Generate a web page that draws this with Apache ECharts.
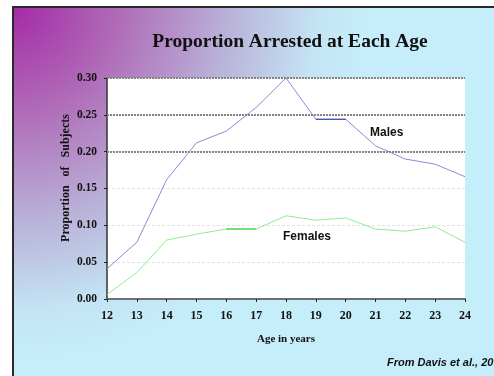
<!DOCTYPE html>
<html>
<head>
<meta charset="utf-8">
<script src="https://cdn.jsdelivr.net/npm/echarts@6/dist/echarts.min.js"></script>
<style>
  html, body { margin: 0; padding: 0; background: #fff; overflow: hidden; }
  #chart { width: 494px; height: 376px; }
</style>
</head>
<body>
<div id="chart"></div>
<script>
  // ages on the x axis
  var ages = ['12', '13', '14', '15', '16', '17', '18', '19', '20', '21', '22', '23', '24'];
  // proportion arrested
  var males = [0.041, 0.077, 0.162, 0.212, 0.228, 0.260, 0.300, 0.244, 0.244, 0.208, 0.190, 0.183, 0.166];
  var females = [0.006, 0.036, 0.080, 0.088, 0.095, 0.095, 0.113, 0.107, 0.110, 0.095, 0.092, 0.098, 0.077];
  // y ticks
  var yMin = 0, yMax = 0.30, yStep = 0.05;
  // heavier dotted grid lines
  var darkGridLevels = [0.20, 0.25, 0.30];
  // segments drawn in a stronger colour (first and last age of each)
  var maleHighlight = ['19', '20'];
  var femaleHighlight = ['16', '17'];

  var serif = '"Liberation Serif", "Times New Roman", serif';
  var sans = '"Liberation Sans", Arial, sans-serif';

  // keep only the values inside [from, to], null elsewhere
  function segment(values, range) {
    var a = ages.indexOf(range[0]), b = ages.indexOf(range[1]);
    return values.map(function (v, i) { return i >= a && i <= b ? v : null; });
  }

  var myChart = echarts.init(document.getElementById('chart'));

  myChart.setOption({
    animation: false,
    title: {
      text: 'Proportion Arrested at Each Age',
      left: 285,
      top: 27,
      textAlign: 'center',
      textStyle: { fontFamily: serif, fontWeight: 'bold', fontSize: 19.5, color: '#111' }
    },
    graphic: [
      {
        // slide background
        type: 'rect',
        z: -100,
        shape: { x: 12, y: 6, width: 482, height: 370 },
        style: {
          fill: new echarts.graphic.RadialGradient(12, 6, 360, [
            { offset: 0, color: '#a42aa6' },
            { offset: 0.3, color: '#b06cb8' },
            { offset: 0.6, color: '#b9b2d8' },
            { offset: 0.85, color: '#c4e4f4' },
            { offset: 1, color: '#c6eefa' }
          ], true)
        }
      },
      {
        // slide edge, left and top only
        type: 'polyline',
        z: -99,
        shape: { points: [[13, 376], [13, 7], [494, 7]] },
        style: { stroke: '#2a2a2a', lineWidth: 2, fill: null }
      },
      {
        type: 'text',
        x: 66, y: 178,
        rotation: Math.PI / 2,
        style: {
          text: 'Proportion   of   Subjects',
          fontFamily: serif, fontWeight: 'bold', fontSize: 12,
          fill: '#111', align: 'center', verticalAlign: 'middle'
        }
      },
      {
        type: 'text',
        x: 370, y: 133,
        style: {
          text: 'Males', fontFamily: sans, fontWeight: 'bold', fontSize: 12,
          fill: '#111', align: 'left', verticalAlign: 'middle'
        }
      },
      {
        type: 'text',
        x: 283, y: 237,
        style: {
          text: 'Females', fontFamily: sans, fontWeight: 'bold', fontSize: 12,
          fill: '#111', align: 'left', verticalAlign: 'middle'
        }
      },
      {
        type: 'text',
        x: 387, y: 363,
        style: {
          text: 'From Davis et al., 20', fontFamily: sans, fontWeight: 'bold',
          fontStyle: 'italic', fontSize: 11,
          fill: '#111', align: 'left', verticalAlign: 'middle'
        }
      }
    ],
    grid: {
      left: 107, right: 29, top: 78, bottom: 77,
      show: true,
      backgroundColor: '#fff',
      borderWidth: 0
    },
    xAxis: {
      type: 'category',
      boundaryGap: false,
      data: ages,
      name: 'Age in years',
      nameLocation: 'middle',
      nameGap: 35,
      nameTextStyle: { fontFamily: serif, fontWeight: 'bold', fontSize: 11, color: '#111' },
      axisLine: { lineStyle: { color: '#707070', width: 2 } },
      axisTick: { show: true, inside: false, length: 3, alignWithLabel: true, lineStyle: { color: '#222' } },
      axisLabel: { fontFamily: serif, fontWeight: 'bold', fontSize: 12, color: '#111', margin: 11 },
      splitLine: { show: false }
    },
    yAxis: {
      type: 'value',
      min: yMin,
      max: yMax,
      interval: yStep,
      axisLine: { show: true, lineStyle: { color: '#333', width: 1.5 } },
      axisTick: { show: true, length: 3, lineStyle: { color: '#222' } },
      axisLabel: {
        fontFamily: serif, fontWeight: 'bold', fontSize: 11.5, color: '#111', margin: 10,
        formatter: function (v) { return v.toFixed(2); }
      },
      splitLine: { show: true, lineStyle: { color: '#e2e2e2', type: [3, 2], width: 1 } }
    },
    series: [
      {
        name: 'Males',
        type: 'line',
        data: males,
        showSymbol: false,
        lineStyle: { width: 1, color: '#8a8ad6' },
        markLine: {
          silent: true,
          symbol: 'none',
          label: { show: false },
          lineStyle: { color: '#858585', width: 2, type: [2, 1] },
          data: darkGridLevels.map(function (v) { return { yAxis: v }; })
        }
      },
      {
        name: 'Females',
        type: 'line',
        data: females,
        showSymbol: false,
        lineStyle: { width: 1, color: '#8eee8e' }
      },
      {
        name: 'Males highlight',
        type: 'line',
        data: segment(males, maleHighlight),
        showSymbol: false,
        connectNulls: false,
        lineStyle: { width: 1.2, color: '#2a3aa0' }
      },
      {
        name: 'Females highlight',
        type: 'line',
        data: segment(females, femaleHighlight),
        showSymbol: false,
        connectNulls: false,
        lineStyle: { width: 1.2, color: '#22cc22' }
      }
    ]
  });
</script>
</body>
</html>
